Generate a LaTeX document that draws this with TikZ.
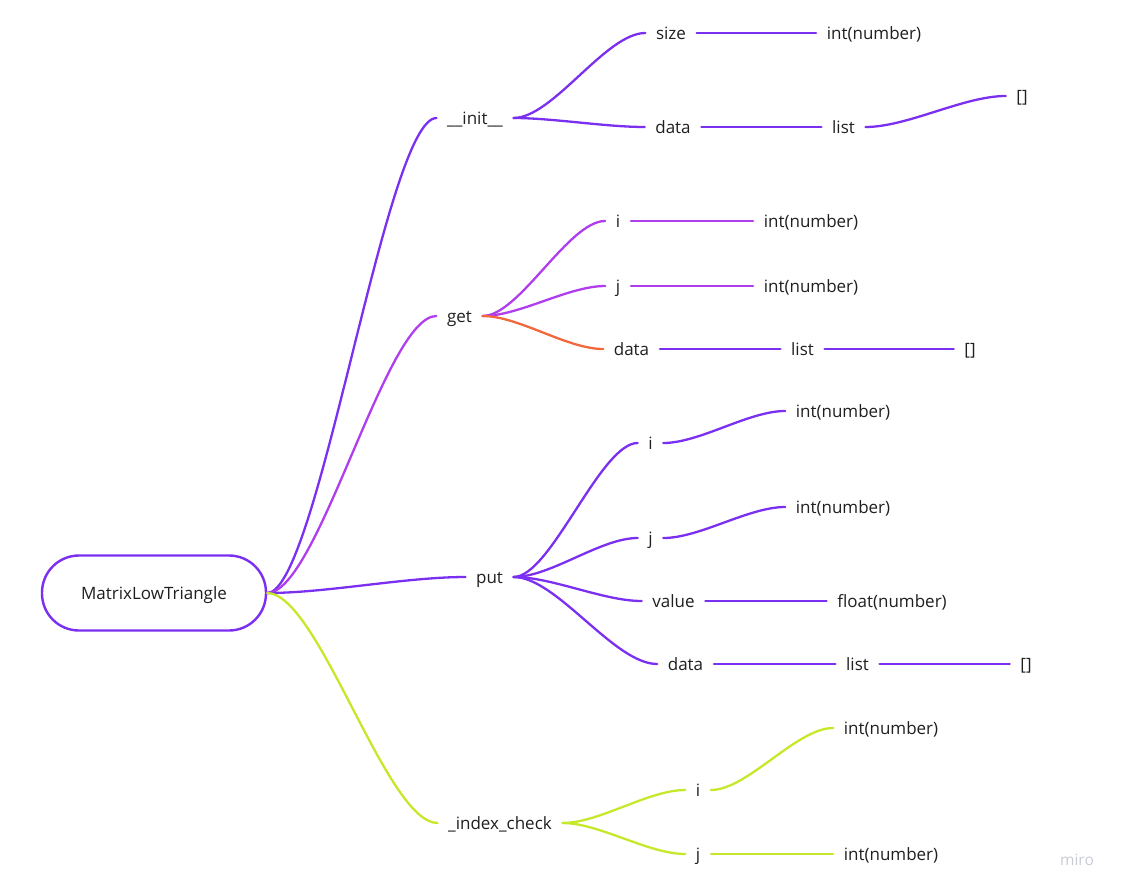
\documentclass[tikz,border=0pt]{standalone}
\usepackage{fontspec}
\setmainfont{Open Sans}
\usetikzlibrary{calc}
\definecolor{violet}{HTML}{7B2FF0}
\definecolor{orchid}{HTML}{B03EEE}
\definecolor{coral}{HTML}{F2683D}
\definecolor{lime}{HTML}{C6E82B}
\definecolor{ink}{HTML}{1F1F1F}
\definecolor{mark}{HTML}{C9CBD4}
\tikzset{
  lbl/.style={inner xsep=10.5pt, inner ysep=2pt, text height=16pt, text depth=2.6pt,
    font=\fontsize{17}{20}\selectfont, text=ink},
  rootbox/.style={draw=violet, line width=2.4pt, rounded corners=37pt,
    minimum width=224pt, minimum height=75pt, fill=white,
    text height=16pt, text depth=2.6pt,
    font=\fontsize{17}{20}\selectfont, text=ink},
  edge/.style={line width=2.3pt, line cap=round},
  sig/.style={to path={let \p1=(\tikztostart), \p2=(\tikztotarget) in
    .. controls ({\x1+0.3*(\x2-\x1)},\y1) and ({\x2-0.3*(\x2-\x1)},\y2) .. (\tikztotarget)}}
}
\begin{document}
\begin{tikzpicture}[x=1pt,y=-1pt]
\useasboundingbox (0,0) rectangle (1121,891);

% nodes
\node[rootbox] (root) at (154,593) {MatrixLowTriangle};

\node[lbl] (init) at (475,118) {\_\_init\_\_};
\node[lbl] (initSize) at (671,33) {size};
\node[lbl] (initSizeT) at (874,33) {int(number)};
\node[lbl] (initData) at (673,127) {data};
\node[lbl] (initList) at (843.5,127) {list};
\node[lbl] (initArr) at (1022,96) {[]};

\node[lbl] (get) at (459.5,316) {get};
\node[lbl] (getI) at (618,221) {i};
\node[lbl] (getIT) at (811,221) {int(number)};
\node[lbl] (getJ) at (618,286) {j};
\node[lbl] (getJT) at (811,286) {int(number)};
\node[lbl] (getData) at (631.5,349) {data};
\node[lbl] (getList) at (802.5,349) {list};
\node[lbl] (getArr) at (970,349) {[]};

\node[lbl] (put) at (489.5,577) {put};
\node[lbl] (putI) at (650.5,443) {i};
\node[lbl] (putIT) at (843,411) {int(number)};
\node[lbl] (putJ) at (650.5,538) {j};
\node[lbl] (putJT) at (843,507) {int(number)};
\node[lbl] (putVal) at (673.5,601) {value};
\node[lbl] (putValT) at (892,601) {float(number)};
\node[lbl] (putData) at (685.5,664) {data};
\node[lbl] (putList) at (857.5,664) {list};
\node[lbl] (putArr) at (1026,664) {[]};

\node[lbl] (idx) at (500,823) {\_index\_check};
\node[lbl] (idxI) at (698,790) {i};
\node[lbl] (idxIT) at (891,728) {int(number)};
\node[lbl] (idxJ) at (698,854) {j};
\node[lbl] (idxJT) at (891,854) {int(number)};

\node[font=\fontsize{15.5}{18}\selectfont, text=mark] (brand) at (1077,860) {miro};

% connectors: __init__
\draw[edge, violet] (root.east) to[sig] (init.west);
\draw[edge, violet] (init.east) to[sig] (initSize.west);
\draw[edge, violet] (initSize.east) -- (initSizeT.west);
\draw[edge, violet] (init.east) to[sig] (initData.west);
\draw[edge, violet] (initData.east) -- (initList.west);
\draw[edge, violet] (initList.east) to[sig] (initArr.west);

% connectors: get
\draw[edge, orchid] (root.east) to[sig] (get.west);
\draw[edge, orchid] (get.east) to[sig] (getI.west);
\draw[edge, orchid] (getI.east) -- (getIT.west);
\draw[edge, orchid] (get.east) to[sig] (getJ.west);
\draw[edge, orchid] (getJ.east) -- (getJT.west);
\draw[edge, coral] (get.east) to[sig] (getData.west);
\draw[edge, violet] (getData.east) -- (getList.west);
\draw[edge, violet] (getList.east) -- (getArr.west);

% connectors: put
\draw[edge, violet] (root.east) to[sig] (put.west);
\draw[edge, violet] (put.east) to[sig] (putI.west);
\draw[edge, violet] (putI.east) to[sig] (putIT.west);
\draw[edge, violet] (put.east) to[sig] (putJ.west);
\draw[edge, violet] (putJ.east) to[sig] (putJT.west);
\draw[edge, violet] (put.east) to[sig] (putVal.west);
\draw[edge, violet] (putVal.east) -- (putValT.west);
\draw[edge, violet] (put.east) to[sig] (putData.west);
\draw[edge, violet] (putData.east) -- (putList.west);
\draw[edge, violet] (putList.east) -- (putArr.west);

% connectors: _index_check
\draw[edge, lime] (root.east) to[sig] (idx.west);
\draw[edge, lime] (idx.east) to[sig] (idxI.west);
\draw[edge, lime] (idxI.east) to[sig] (idxIT.west);
\draw[edge, lime] (idx.east) to[sig] (idxJ.west);
\draw[edge, lime] (idxJ.east) -- (idxJT.west);
\end{tikzpicture}
\end{document}
